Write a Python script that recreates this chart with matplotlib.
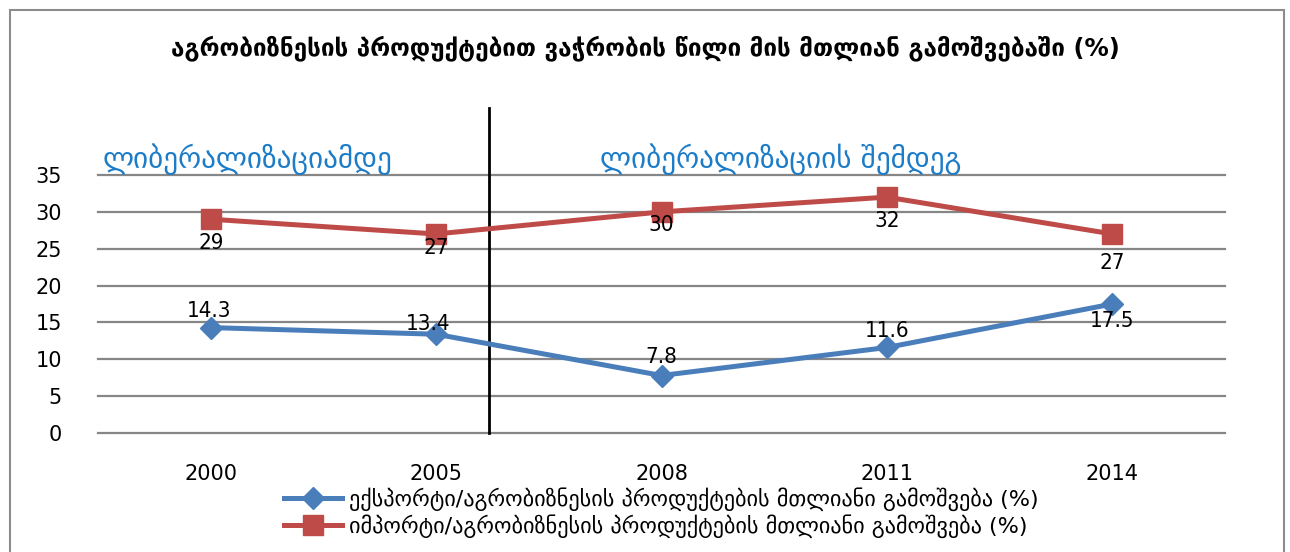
import matplotlib.pyplot as plt
from matplotlib.patches import Rectangle

plt.rcParams['font.family'] = ['DejaVu Sans']

# მონაცემები
years = ["2000", "2005", "2008", "2011", "2014"]
export_share = [14.3, 13.4, 7.8, 11.6, 17.5]
import_share = [29, 27, 30, 32, 27]

title = "აგრობიზნესის პროდუქტებით ვაჭრობის წილი მის მთლიან გამოშვებაში (%)"
export_label = "ექსპორტი/აგრობიზნესის პროდუქტების მთლიანი გამოშვება (%)"
import_label = "იმპორტი/აგრობიზნესის პროდუქტების მთლიანი გამოშვება (%)"
before_text = "ლიბერალიზაციამდე"
after_text = "ლიბერალიზაციის შემდეგ"

blue = "#4A7EBB"
red = "#BE4B48"
text_blue = "#1C7CC8"

fig = plt.figure(figsize=(12.9, 5.52), dpi=100)
ax = fig.add_axes([98 / 1290, 1 - 433 / 552, 1127 / 1290, 258 / 552])

# ჩარჩო
fig.patches.append(Rectangle((10 / 1290, -0.05), 1274 / 1290, 1.05 - 10 / 552,
                             transform=fig.transFigure, fill=False,
                             edgecolor="#8C8C8C", linewidth=1.5))

x = list(range(len(years)))
ax.plot(x, export_share, color=blue, linewidth=3.6, marker="D", markersize=11,
        label=export_label, zorder=3)
ax.plot(x, import_share, color=red, linewidth=3.6, marker="s", markersize=14,
        label=import_label, zorder=3)

# მონაცემთა წარწერები (ოფსეტები პიქსელებში)
exp_offsets = [(-2, 17), (-8, 10), (0, 19), (0, 16), (0, -17)]
imp_offsets = [(0, -24), (0, -14), (0, -13), (0, -24), (0, -29)]
num_font = dict(fontsize=16, fontstretch="condensed")
for i, v in enumerate(export_share):
    ax.annotate(f"{v}", (x[i], v), xytext=exp_offsets[i], textcoords="offset pixels",
                ha="center", va="center", zorder=4, **num_font)
for i, v in enumerate(import_share):
    ax.annotate(f"{v}", (x[i], v), xytext=imp_offsets[i], textcoords="offset pixels",
                ha="center", va="center", zorder=4, **num_font)

ax.set_xlim(-0.5, 4.5)
ax.set_ylim(0, 35)
ax.set_yticks(range(0, 36, 5))
ax.set_xticks(x)
ax.set_xticklabels(years)
ax.yaxis.grid(True, color="#868686", linewidth=1.6)
for gl in ax.get_ygridlines():
    gl.set_clip_on(False)
ax.set_axisbelow(True)
for s in ax.spines.values():
    s.set_visible(False)
ax.tick_params(length=0, labelsize=15)
ax.tick_params(axis="y", pad=26)
ax.tick_params(axis="x", pad=22)

# ლიბერალიზაციის ზღვარი
ax.plot([1.235, 1.235], [0, 44.1], color="black", linewidth=2, clip_on=False, zorder=2)

ax.text(0.004, 1.0, before_text, transform=ax.transAxes, color=text_blue,
        fontsize=21, ha="left", va="bottom")
ax.text(0.445, 1.0, after_text, transform=ax.transAxes, color=text_blue,
        fontsize=21, ha="left", va="bottom")

fig.text(0.5, 1 - 48 / 552, title, ha="center", va="center", fontsize=17.5,
         fontweight="bold")

ax.legend(loc="upper center", bbox_to_anchor=(0.5, -0.175), frameon=False,
          handlelength=2.6, handletextpad=0.3, labelspacing=0.15, borderaxespad=0,
          prop={"size": 16})

fig.savefig("out.png", dpi=100)
